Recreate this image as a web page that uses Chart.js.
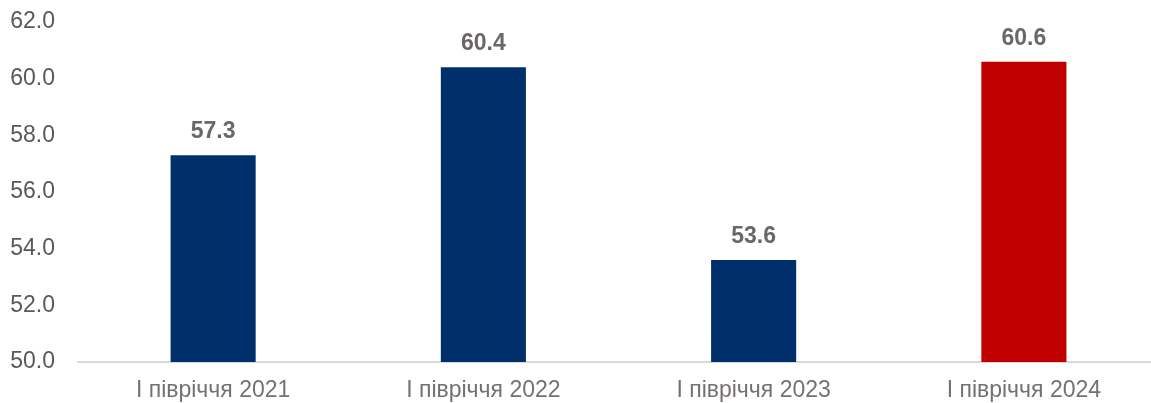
<!DOCTYPE html>
<html>
<head>
<meta charset="utf-8">
<script src="https://cdn.jsdelivr.net/npm/chart.js@4"></script>
<style>
    html, body { margin: 0; padding: 0; background: #fff; overflow: hidden; }
    #wrap { width: 1160px; height: 403px; }
</style>
</head>
<body>
<div id="wrap"><canvas id="bar-chart"></canvas></div>
<script>
var categories = ["I півріччя 2021", "I півріччя 2022", "I півріччя 2023", "I півріччя 2024"];
var values = [57.3, 60.4, 53.6, 60.6];
var barColors = ["#002f6c", "#002f6c", "#002f6c", "#c00000"];
var yTicks = [50, 52, 54, 56, 58, 60, 62];

// labels above the bars
var valueLabels = {
    id: "valueLabels",
    afterDatasetsDraw: function (chart) {
        var ctx = chart.ctx;
        var meta = chart.getDatasetMeta(0);
        ctx.save();
        ctx.font = "bold 23px Arial, 'Liberation Sans', sans-serif";
        ctx.fillStyle = "#6b6767";
        ctx.textAlign = "center";
        ctx.textBaseline = "alphabetic";
        for (var i in meta.data) {
            var bar = meta.data[i];
            ctx.fillText(values[i].toFixed(1), bar.x, bar.y - 17);
        }
        ctx.restore();
    }
};

new Chart(document.getElementById("bar-chart"), {
    type: "bar",
    data: {
        labels: categories,
        datasets: [{
            data: values,
            backgroundColor: barColors,
            barPercentage: 85 / 270,
            categoryPercentage: 1
        }]
    },
    options: {
        responsive: true,
        maintainAspectRatio: false,
        animation: false,
        layout: { padding: { left: 0, right: 1, top: 0, bottom: 0 } },
        plugins: {
            legend: { display: false },
            tooltip: { enabled: false }
        },
        scales: {
            x: {
                afterFit: function (axis) { axis.height = 41; },
                grid: { display: false, drawTicks: false },
                border: { display: true, color: "#d9d9d9", width: 2 },
                ticks: {
                    color: "#767171",
                    padding: 15,
                    font: { family: "Arial, 'Liberation Sans', sans-serif", size: 23 }
                }
            },
            y: {
                min: yTicks[0],
                max: yTicks[yTicks.length - 1],
                afterBuildTicks: function (axis) {
                    axis.ticks = yTicks.map(function (v) { return { value: v }; });
                },
                afterFit: function (axis) {
                    axis.width = 78;
                    axis.paddingTop = 22;
                    axis.paddingBottom = 0;
                },
                grid: { display: false, drawTicks: false },
                border: { display: false },
                ticks: {
                    color: "#595959",
                    padding: 23,
                    callback: function (v) { return Number(v).toFixed(1); },
                    font: { family: "Arial, 'Liberation Sans', sans-serif", size: 23 }
                }
            }
        }
    },
    plugins: [valueLabels]
});
</script>
</body>
</html>
